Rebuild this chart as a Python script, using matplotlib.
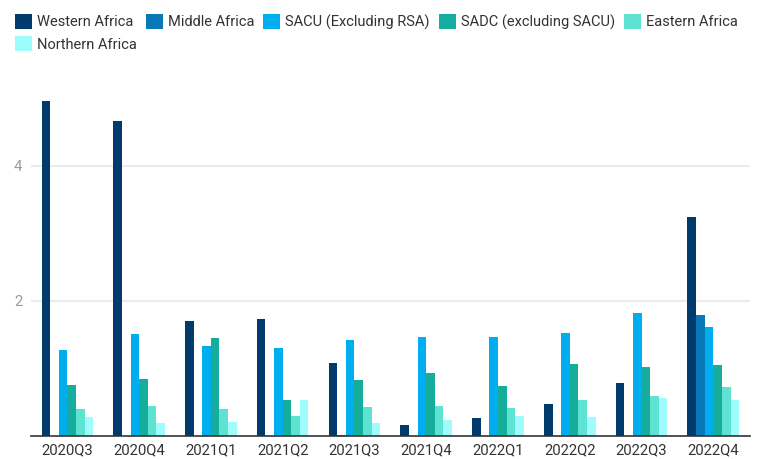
import numpy as np
import matplotlib
matplotlib.use("Agg")
import matplotlib.pyplot as plt

plt.rcParams['font.family'] = ['Roboto', 'DejaVu Sans']

quarters = ['2020Q3', '2020Q4', '2021Q1', '2021Q2', '2021Q3',
            '2021Q4', '2022Q1', '2022Q2', '2022Q3', '2022Q4']

western = [4.96, 4.67, 1.71, 1.73, 1.08, 0.16, 0.27, 0.47, 0.79, 3.24]
middle = [0, 0, 0, 0, 0.01, 0, 0, 0, 0, 1.79]
sacu = [1.27, 1.51, 1.34, 1.30, 1.42, 1.46, 1.46, 1.53, 1.82, 1.61]
sadc = [0.75, 0.84, 1.45, 0.53, 0.83, 0.93, 0.74, 1.07, 1.02, 1.05]
eastern = [0.40, 0.45, 0.40, 0.29, 0.43, 0.44, 0.41, 0.53, 0.59, 0.72]
northern = [0.28, 0.20, 0.21, 0.53, 0.20, 0.24, 0.29, 0.28, 0.57, 0.53]

series = [
    ('Western Africa', western, '#013a6d'),
    ('Middle Africa', middle, '#0878b6'),
    ('SACU (Excluding RSA)', sacu, '#00aeef'),
    ('SADC (excluding SACU)', sadc, '#16ad9c'),
    ('Eastern Africa', eastern, '#5ee2d1'),
    ('Northern Africa', northern, '#9efcfc'),
]

fig = plt.figure(figsize=(7.59, 4.59), dpi=100)
ax = fig.add_axes([0.0405, 0.050, 0.9475, 0.765])

x = np.arange(len(quarters))
w = 0.12
bars = []
for i, (name, vals, col) in enumerate(series):
    b = ax.bar(x + (i - 2.5) * w, vals, width=w, color=col, label=name, zorder=3)
    bars.append(b)

ax.set_xlim(-0.51, 9.51)
ax.set_ylim(0, 5.2)
ax.set_yticks([2, 4])
ax.set_yticklabels(['2', '4'])
ax.set_xticks(x)
ax.set_xticklabels(quarters)
ax.grid(axis='y', color='#ebebeb', linewidth=1.5, zorder=0)
for s in ['top', 'right', 'left']:
    ax.spines[s].set_visible(False)
ax.spines['bottom'].set_color('#333333')
ax.spines['bottom'].set_linewidth(1.2)
ax.spines['bottom'].set_zorder(4)
ax.tick_params(axis='y', length=0, pad=6, labelsize=10.7, labelcolor='#9a9a9a')
ax.tick_params(axis='x', length=0, pad=5, labelsize=10.7, labelcolor='#333333')

# legend fills column-wise, so order to get row-wise layout
order = [0, 5, 1, 2, 3, 4]
fig.legend([bars[i] for i in order], [series[i][0] for i in order],
           loc='upper left', bbox_to_anchor=(0.006, 0.992), ncol=5, frameon=False,
           fontsize=10.5, handlelength=1.17, handleheight=1.17, handletextpad=0.34,
           columnspacing=0.62, labelspacing=0.5, borderaxespad=0.3,
           labelcolor='#333333')

fig.savefig('out.png', dpi=100)
